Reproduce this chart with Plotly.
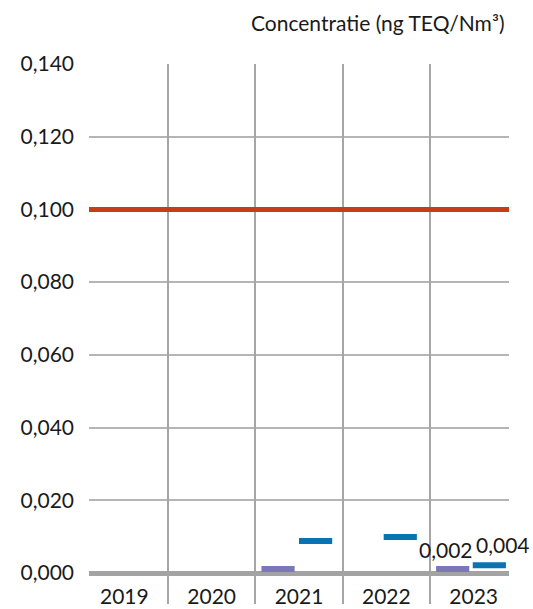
import plotly.graph_objects as go

years = ["2019", "2020", "2021", "2022", "2023"]
purple_vals = [None, None, 0.0011, None, 0.0011]
blue_vals = [None, None, 0.0088, 0.0099, 0.0021]
limit_value = 0.100
label_texts = {"purple_2023": "0,002", "blue_2023": "0,004"}
y_ticks = [0.0, 0.02, 0.04, 0.06, 0.08, 0.10, 0.12, 0.14]

FONT = "Lato, 'Open Sans', sans-serif"
PURPLE = "#7b77b9"
BLUE = "#0875b2"
RED = "#c73d17"
T = 0.00165  # dash thickness in data units

xs = list(range(len(years)))

def dash_trace(vals, color, offsets, name):
    px, base, h, off = [], [], [], []
    for i, v in enumerate(vals):
        if v is None:
            continue
        px.append(i)
        base.append(v - T / 2)
        h.append(T)
        off.append(offsets[i])
    return go.Bar(x=px, y=h, base=base, width=0.38, offset=off,
                  marker=dict(color=color, line=dict(width=0)),
                  name=name, showlegend=False, hoverinfo="skip")

fig = go.Figure()
fig.add_trace(dash_trace(purple_vals, PURPLE, [-0.43] * 5, "p"))
fig.add_trace(dash_trace(blue_vals, BLUE, [0.0, 0.0, 0.0, -0.03, -0.01], "b"))

# invisible trace for the gridline axis
fig.add_trace(go.Scatter(x=[0], y=[0], xaxis="x2", mode="markers",
                         marker=dict(opacity=0), showlegend=False, hoverinfo="skip"))

xr = [-0.405, 4.405]
fig.update_layout(
    width=533, height=609, autosize=False,
    margin=dict(l=89, r=24, t=64, b=36),
    paper_bgcolor="white", plot_bgcolor="white",
    separators=",.",
    font=dict(family=FONT, size=21, color="#1a1a1a"),
    xaxis=dict(range=xr, tickmode="array", tickvals=xs, ticktext=years,
               showgrid=False, zeroline=False, showline=False, ticks="",
               tickfont=dict(size=21), ticklabelstandoff=9, automargin=False),
    xaxis2=dict(range=xr, overlaying="x", side="bottom", tickmode="array",
                tickvals=[0.5, 1.5, 2.5, 3.5], showticklabels=False,
                showgrid=True, gridcolor="#a6a6a6", gridwidth=2,
                ticks="outside", ticklen=30, tickwidth=2, tickcolor="#a6a6a6",
                zeroline=False, showline=False, automargin=False),
    yaxis=dict(range=[0, 0.14], tickmode="array", tickvals=y_ticks,
               tickformat=".3f", showgrid=True, gridcolor="#b5b5b5", gridwidth=2,
               zeroline=True, zerolinecolor="#a3a3a3", zerolinewidth=5,
               showline=False, ticks="", ticklabelstandoff=14,
               tickfont=dict(size=21), automargin=False),
    barmode="overlay",
    shapes=[dict(type="line", xref="x domain", x0=0, x1=1, yref="y",
                 y0=limit_value, y1=limit_value, line=dict(color=RED, width=5))],
    annotations=[
        dict(text="Concentratie (ng TEQ/Nm³)", xref="paper", yref="paper",
             x=0.9945, y=1.0825, xanchor="right", yanchor="middle",
             showarrow=False, font=dict(size=21, family=FONT, color="#1a1a1a")),
        dict(text=label_texts["purple_2023"], x=4 - 0.43 + 0.19, y=purple_vals[4],
             xref="x", yref="y", xanchor="center", yanchor="bottom",
             xshift=-7, yshift=5, showarrow=False, font=dict(size=21)),
        dict(text=label_texts["blue_2023"], x=4 - 0.01 + 0.19, y=blue_vals[4],
             xref="x", yref="y", xanchor="center", yanchor="bottom",
             xshift=14, yshift=6, showarrow=False, font=dict(size=21)),
    ],
)

fig.write_html("out.html", config={"displayModeBar": False},
               post_script="document.body.style.margin='0';document.body.style.overflow='hidden';")
